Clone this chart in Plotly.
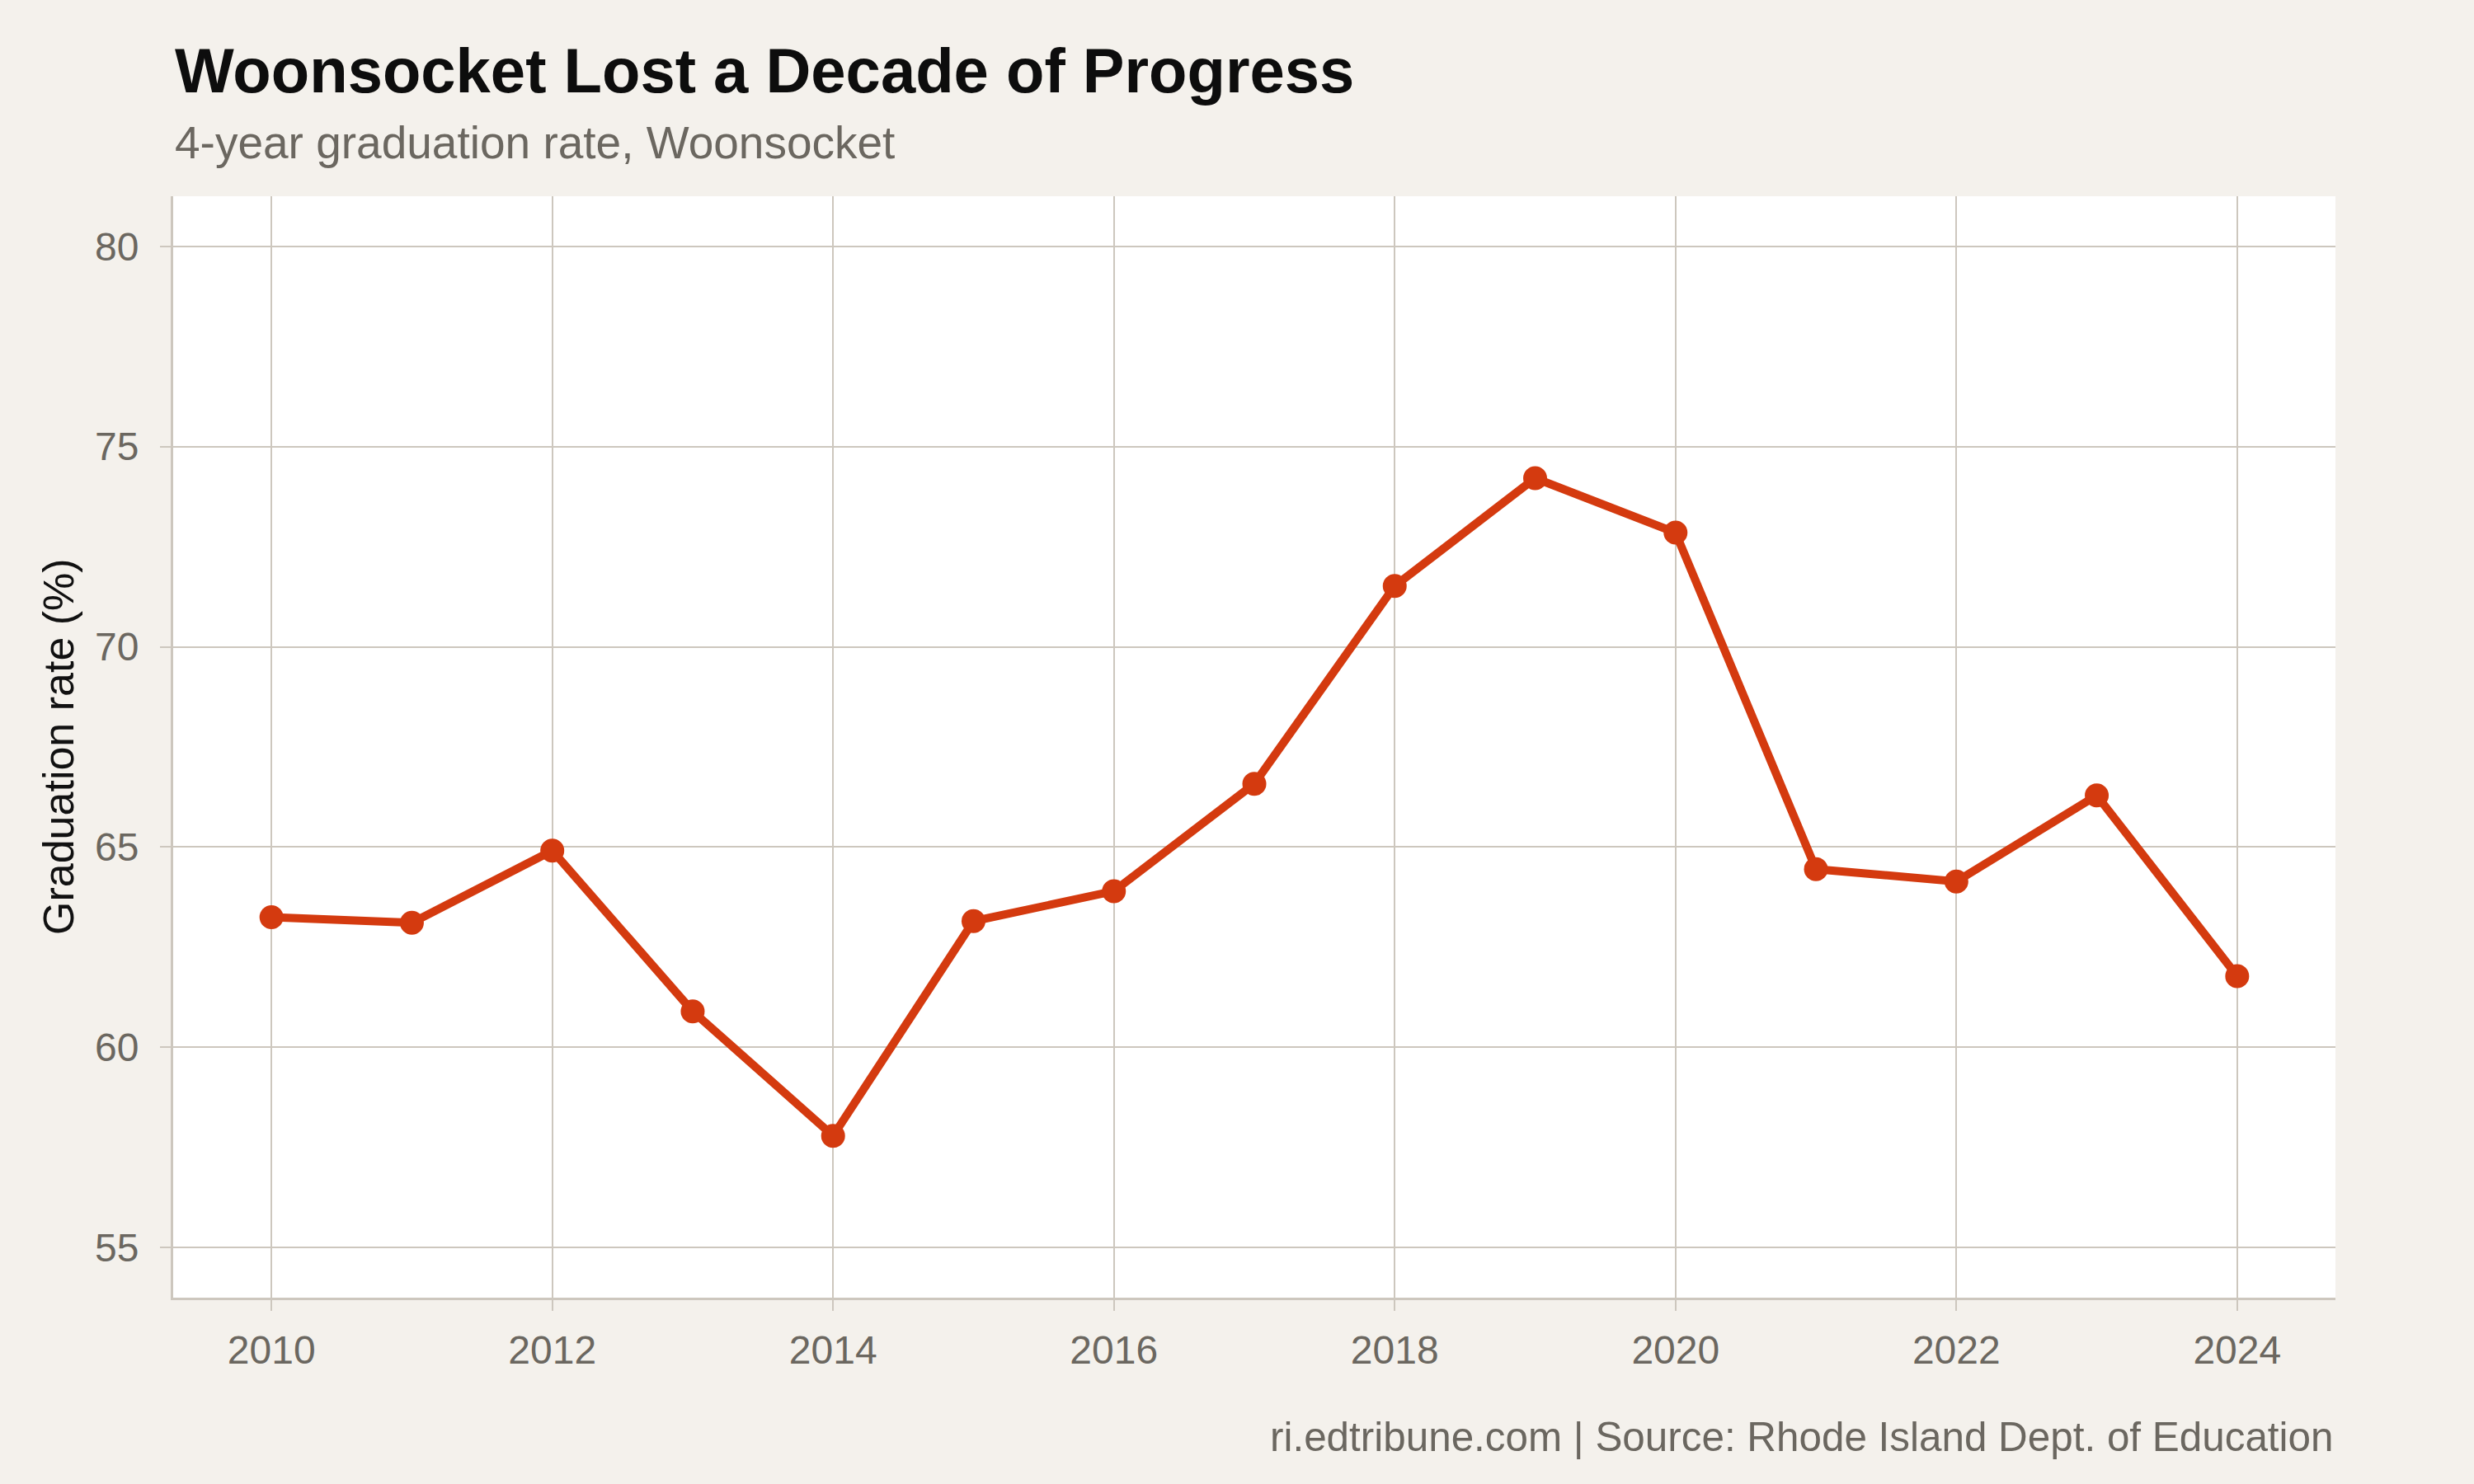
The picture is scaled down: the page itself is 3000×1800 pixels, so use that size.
import plotly.graph_objects as go

# ---- data ----
years = [2010, 2011, 2012, 2013, 2014, 2015, 2016, 2017, 2018, 2019, 2020, 2021, 2022, 2023, 2024]
grad_rate = [63.25, 63.11, 64.91, 60.90, 57.79, 63.15, 63.90, 66.58, 71.52, 74.21, 72.85, 64.45, 64.14, 66.29, 61.78]
x_ticks = [2010, 2012, 2014, 2016, 2018, 2020, 2022, 2024]
y_ticks = [55, 60, 65, 70, 75, 80]

title_text = "Woonsocket Lost a Decade of Progress"
subtitle_text = "4-year graduation rate, Woonsocket"
caption_text = "ri.edtribune.com | Source: Rhode Island Dept. of Education"
y_title = "Graduation rate (%)"

# ---- style ----
BG = "#f4f1ec"
GRID = "#cdc7be"
LINE = "#d43a0f"
GREY_TXT = "#6b6760"
FONT = "Liberation Sans, Arial, Helvetica, sans-serif"

W, H = 3000, 1800
ML, MR, MT, MB = 210, 168, 238, 226
plot_h = H - MT - MB
plot_w = W - ML - MR


def py(px):
    return (H - MB - px) / plot_h


def pxx(px):
    return (px - ML) / plot_w


fig = go.Figure()
fig.add_trace(go.Scatter(
    x=years, y=grad_rate, mode="lines+markers",
    line=dict(color=LINE, width=10),
    marker=dict(color=LINE, size=29, line=dict(width=0)),
    showlegend=False, cliponaxis=False,
))

axis_common = dict(
    showgrid=True, gridcolor=GRID, gridwidth=2,
    showline=True, linecolor=GRID, linewidth=3,
    ticks="outside", ticklen=13, tickwidth=2, tickcolor=GRID,
    tickfont=dict(family=FONT, size=48, color=GREY_TXT),
    zeroline=False,
)

fig.update_layout(
    width=W, height=H,
    margin=dict(l=ML, r=MR, t=MT, b=MB, autoexpand=False),
    paper_bgcolor=BG, plot_bgcolor="white",
    font=dict(family=FONT),
    xaxis=dict(range=[2009.3, 2024.7], tickvals=x_ticks,
               ticktext=[str(v) for v in x_ticks], ticklabelstandoff=6, **axis_common),
    yaxis=dict(range=[53.75, 81.25], tickvals=y_ticks,
               ticktext=[str(v) for v in y_ticks], ticklabelstandoff=16, **axis_common),
    annotations=[
        dict(text=title_text, xref="paper", yref="paper", x=0, y=py(85.5),
             xanchor="left", yanchor="middle", showarrow=False,
             font=dict(family=FONT, size=76, color="#0d0d0d", weight="bold")),
        dict(text=subtitle_text, xref="paper", yref="paper", x=0, y=py(173),
             xanchor="left", yanchor="middle", showarrow=False,
             font=dict(family=FONT, size=55, color=GREY_TXT)),
        dict(text=caption_text, xref="paper", yref="paper", x=1, y=py(1742),
             xanchor="right", yanchor="middle", showarrow=False,
             font=dict(family=FONT, size=49.4, color=GREY_TXT)),
        dict(text=y_title, xref="paper", yref="paper", x=pxx(71), y=0.5,
             xanchor="center", yanchor="middle", showarrow=False, textangle=-90,
             font=dict(family=FONT, size=52, color="#111111")),
    ],
)

fig.write_html("out.html")
